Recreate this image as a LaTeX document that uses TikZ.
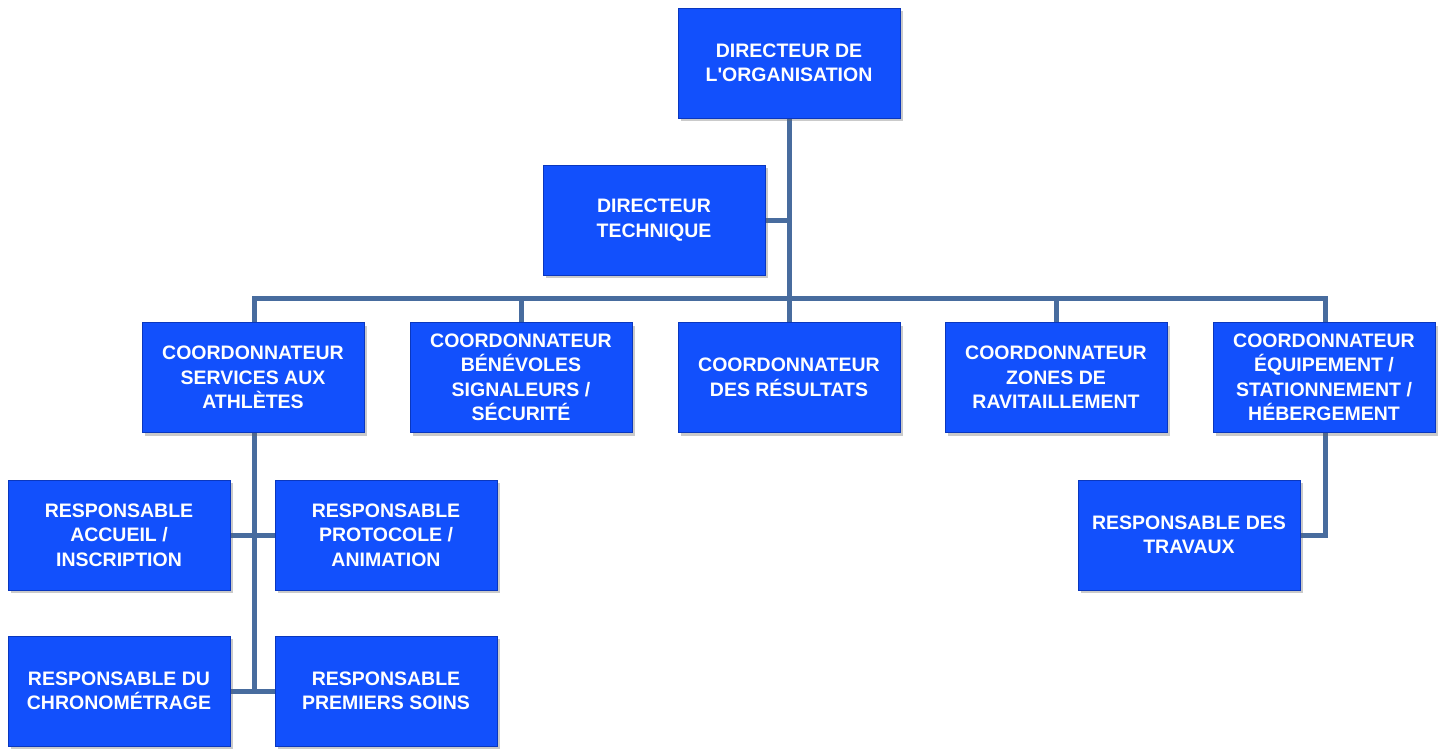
\documentclass[tikz,border=0pt]{standalone}
\usepackage{fontspec}
\setmainfont{Liberation Sans}
\usetikzlibrary{shadows,backgrounds}
\definecolor{boxblue}{RGB}{18,80,252}
\definecolor{boxedge}{RGB}{10,55,190}
\definecolor{linkblue}{RGB}{72,108,158}
\tikzset{
  orgbox/.style={rectangle, minimum width=222pt, minimum height=110pt, inner sep=0pt,
    fill=boxblue, draw=boxedge, line width=0.8pt, text=white, align=center,
    font=\bfseries\fontsize{19.5}{24.5}\selectfont,
    drop shadow={shadow xshift=3pt, shadow yshift=-3pt, opacity=0.35, fill=black!60}},
  link/.style={draw=linkblue, line width=5pt, line cap=rect}
}
\begin{document}
\begin{tikzpicture}[x=1pt,y=-1pt]
\useasboundingbox (0,0) rectangle (1443,749);
% nodes
\node[orgbox] (top) at (789,63) {DIRECTEUR DE\\L\textquotesingle ORGANISATION};
\node[orgbox] (dt) at (654,220) {DIRECTEUR\\TECHNIQUE};
\node[orgbox] (c1) at (253,377.5) {COORDONNATEUR\\SERVICES AUX\\ATHLÈTES};
\node[orgbox] (c2) at (521,377.5) {COORDONNATEUR\\BÉNÉVOLES\\SIGNALEURS /\\SÉCURITÉ};
\node[orgbox] (c3) at (789,377.5) {COORDONNATEUR\\DES RÉSULTATS};
\node[orgbox] (c4) at (1056,377.5) {COORDONNATEUR\\ZONES DE\\RAVITAILLEMENT};
\node[orgbox] (c5) at (1324,377.5) {COORDONNATEUR\\ÉQUIPEMENT /\\STATIONNEMENT /\\HÉBERGEMENT};
\node[orgbox] (r1) at (119,535) {RESPONSABLE\\ACCUEIL /\\INSCRIPTION};
\node[orgbox] (r2) at (386,535) {RESPONSABLE\\PROTOCOLE /\\ANIMATION};
\node[orgbox] (r3) at (119,691) {RESPONSABLE DU\\CHRONOMÉTRAGE};
\node[orgbox] (r4) at (386,691) {RESPONSABLE\\PREMIERS SOINS};
\node[orgbox] (rt) at (1189,535) {RESPONSABLE DES\\TRAVAUX};
\coordinate (bus) at (789,298);
\coordinate (lv) at (254,0);
\coordinate (rv) at (1325,0);
% connectors
\begin{scope}[on background layer]
\draw[link] (top.south) -- (top.south |- bus);
\draw[link] (dt.east) -- (dt.east -| top.south);
\draw[link] (lv |- bus) -- (rv |- bus);
\draw[link] (c1.north -| lv) -- (lv |- bus);
\draw[link] (c2.north) -- (c2.north |- bus);
\draw[link] (c3.north) -- (c3.north |- bus);
\draw[link] (c4.north) -- (c4.north |- bus);
\draw[link] (c5.north -| rv) -- (rv |- bus);
\draw[link] (c1.south -| lv) -- (lv |- r3.east);
\draw[link] (r1.east) -- (r2.west);
\draw[link] (r3.east) -- (r4.west);
\draw[link] (c5.south -| rv) |- (rt.east);
\end{scope}
\end{tikzpicture}
\end{document}
